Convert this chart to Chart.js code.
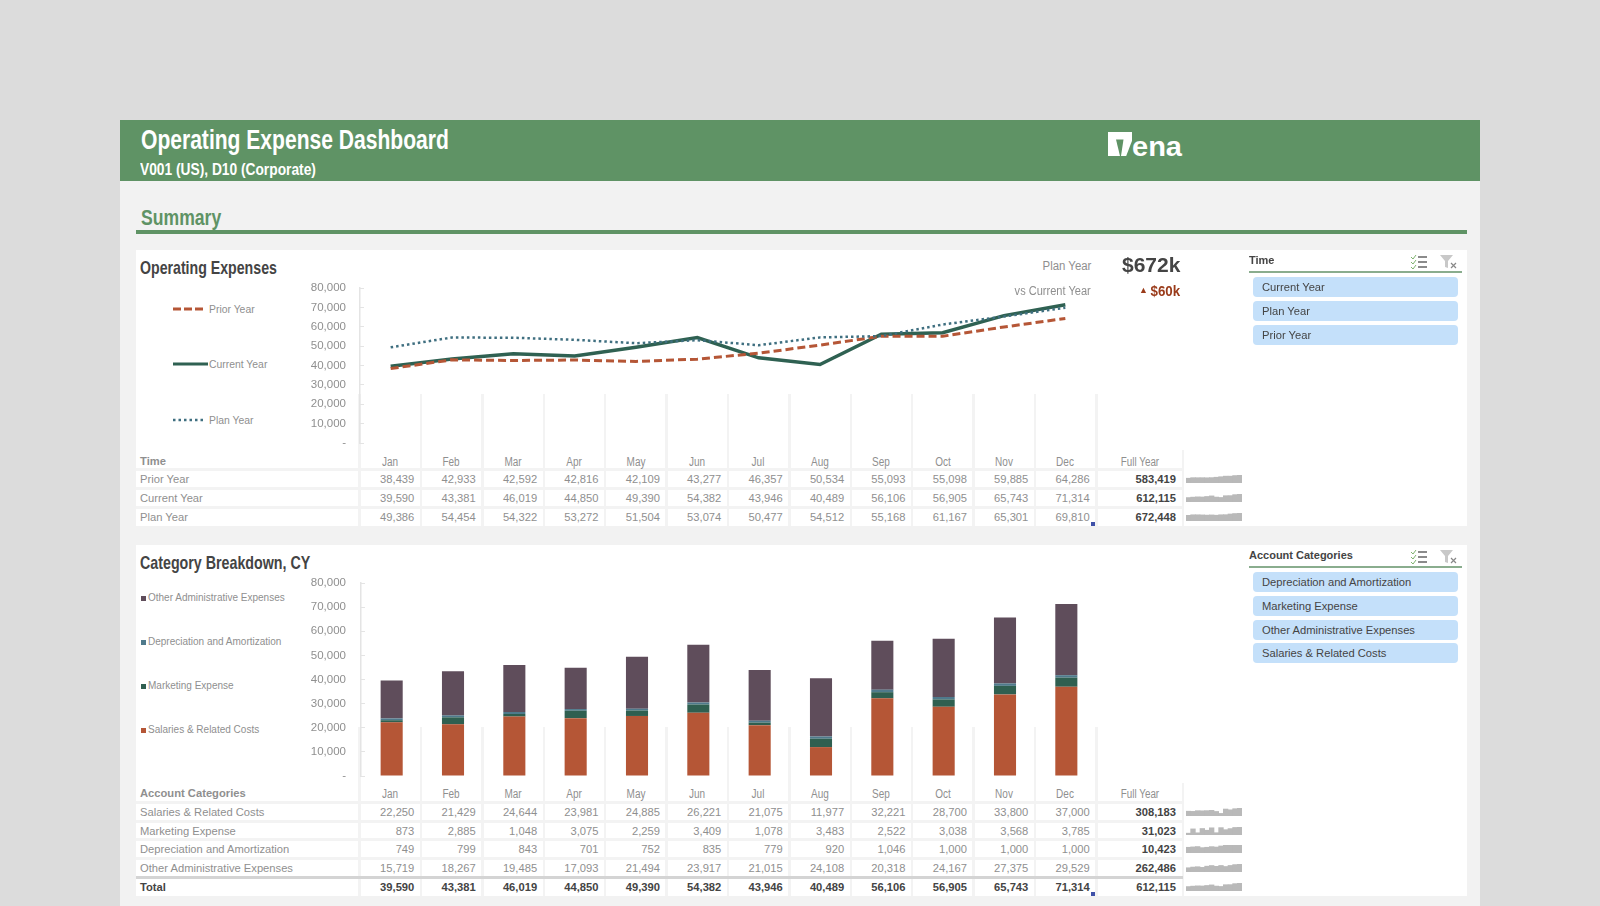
<!DOCTYPE html>
<html>
<head>
<meta charset="utf-8">
<title>Operating Expense Dashboard</title>
<script src="https://cdn.jsdelivr.net/npm/chart.js@4/dist/chart.umd.min.js"></script>
<style>
  html, body { margin: 0; padding: 0; }
  body { width: 1600px; height: 906px; background: #dcdcdc; position: relative; overflow: hidden; font-family: "Liberation Sans", sans-serif; }
  .box, .txt, canvas, svg { position: absolute; }
  .txt { white-space: nowrap; line-height: 16px; height: 16px; }
  .slicer { background: #c4e0fa; border-radius: 4px; left: 1253px; width: 205px; height: 20px; }
</style>
</head>
<body>
<div class="box" style="left:120px;top:120px;width:1360px;height:786px;background:#f2f2f2"></div>
<div class="box" style="left:120px;top:120px;width:1360px;height:61px;background:#5f9365"></div>
<div class="box" style="left:136px;top:230px;width:1331px;height:4px;background:#5f9365"></div>
<div class="box" style="left:136px;top:250px;width:1331px;height:276px;background:#fff"></div>
<div class="box" style="left:136px;top:545px;width:1331px;height:351px;background:#fff"></div>
<div id="grid"></div>
<canvas id="linesChart" width="797" height="170" style="left:300px;top:280px"></canvas>
<canvas id="barsChart" width="798" height="210" style="left:300px;top:575px"></canvas>
<div id="overlay"></div>

<script>
const months = ['Jan', 'Feb', 'Mar', 'Apr', 'May', 'Jun', 'Jul', 'Aug', 'Sep', 'Oct', 'Nov', 'Dec'];

const priorYear = [38439, 42933, 42592, 42816, 42109, 43277, 46357, 50534, 55093, 55098, 59885, 64286];
const currentYear = [39590, 43381, 46019, 44850, 49390, 54382, 43946, 40489, 56106, 56905, 65743, 71314];
const planYear = [49386, 54454, 54322, 53272, 51504, 53074, 50477, 54512, 55168, 61167, 65301, 69810];
const timeFullYear = [583419, 612115, 672448];

const salaries = [22250, 21429, 24644, 23981, 24885, 26221, 21075, 11977, 32221, 28700, 33800, 37000];
const marketing = [873, 2885, 1048, 3075, 2259, 3409, 1078, 3483, 2522, 3038, 3568, 3785];
const depreciation = [749, 799, 843, 701, 752, 835, 779, 920, 1046, 1000, 1000, 1000];
const otherAdmin = [15719, 18267, 19485, 17093, 21494, 23917, 21015, 24108, 20318, 24167, 27375, 29529];
const totals = [39590, 43381, 46019, 44850, 49390, 54382, 43946, 40489, 56106, 56905, 65743, 71314];
const categoryFullYear = [308183, 31023, 10423, 262486, 612115];

const timeSlicer = ['Current Year', 'Plan Year', 'Prior Year'];
const categorySlicer = ['Depreciation and Amortization', 'Marketing Expense', 'Other Administrative Expenses', 'Salaries & Related Costs'];

const GREY = '#8f8f8f', DARK = '#444444', RUST = '#b55636', PINE = '#2f6152', TEAL = '#3f6f80', PLUM = '#5f4d5b', LINE = '#f3f3f3';
const colX = i => 359.3 + 61.4 * i;
const fmt = v => v.toLocaleString('en-US');

const grid = document.getElementById('grid');
const overlay = document.getElementById('overlay');

function rect(x, y, w, h, color) {
  const d = document.createElement('div');
  d.className = 'box';
  d.style.cssText = `left:${x}px;top:${y}px;width:${w}px;height:${h}px;background:${color}`;
  grid.appendChild(d);
}

// text is placed by its vertical centre, align says which side x refers to.
// squeeze stands in for the condensed face of the source, no narrow font here
function text(str, x, cy, opts = {}) {
  const d = document.createElement('div');
  d.className = 'txt';
  d.textContent = str;
  const sq = opts.squeeze || 1;
  let pos = `left:${x}px;transform-origin:left center;transform:scaleX(${sq})`;
  if (opts.align === 'right') pos = `right:${1600 - x}px;transform-origin:right center;transform:scaleX(${sq})`;
  if (opts.align === 'center') pos = `left:${x}px;transform:translateX(-50%) scaleX(${sq})`;
  d.style.cssText = `${pos};top:${cy - 8}px;font-size:${opts.size || 11.2}px;color:${opts.color || GREY};font-weight:${opts.bold ? 'bold' : 'normal'}`;
  overlay.appendChild(d);
}

function sparkline(values, x, y) {
  const c = document.createElement('canvas');
  c.width = 56; c.height = 8;
  c.style.left = x + 'px'; c.style.top = y + 'px';
  overlay.appendChild(c);
  new Chart(c, {
    type: 'bar',
    data: { labels: months, datasets: [{ data: values, backgroundColor: '#b9b9b9', barPercentage: 1, categoryPercentage: 1 }] },
    options: {
      responsive: false, animation: false, events: [],
      plugins: { legend: { display: false }, tooltip: { enabled: false } },
      scales: { x: { display: false }, y: { display: false, min: 0, max: Math.max(...values) } },
    },
  });
}

// one block of table rows under a chart
function table(title, headY, rows, rowYs, sepTop, fullTop, bottom) {
  for (let i = 0; i <= 12; i++) rect(colX(i) - 1, sepTop, 2.5, bottom - sepTop, LINE);
  rect(1182, fullTop, 2, bottom - fullTop, LINE);
  text(title, 140, headY - 1, { bold: true });
  months.forEach((m, i) => text(m, colX(i) + 30.7, headY, { size: 12.5, squeeze: 0.8, align: 'center' }));
  text('Full Year', 1140, headY, { size: 12, squeeze: 0.82, align: 'center' });
  rows.forEach((r, k) => {
    const cy = rowYs[k];
    rect(136, cy - 11, 1047, 2.5, LINE);
    text(r.name, 140, cy, { bold: r.bold, color: r.bold ? DARK : GREY });
    r.values.forEach((v, i) => text(fmt(v), colX(i) + 55, cy, { align: 'right', bold: r.bold, color: r.bold ? DARK : GREY }));
    text(fmt(r.full), 1176, cy, { align: 'right', bold: true, color: DARK });
    sparkline(r.values, 1186, cy - 4);
  });
}

function legendLine(name, cy, color, w, dash, sampleW) {
  const ns = 'http://www.w3.org/2000/svg';
  const s = document.createElementNS(ns, 'svg');
  s.setAttribute('width', sampleW); s.setAttribute('height', 6);
  s.style.left = '173px'; s.style.top = (cy - 3) + 'px';
  const l = document.createElementNS(ns, 'line');
  l.setAttribute('x1', 0); l.setAttribute('x2', sampleW); l.setAttribute('y1', 3); l.setAttribute('y2', 3);
  l.setAttribute('stroke', color); l.setAttribute('stroke-width', w);
  if (dash) l.setAttribute('stroke-dasharray', dash);
  s.appendChild(l);
  overlay.appendChild(s);
  text(name, 209, cy + 0.5, { size: 10.4 });
}

function legendSquare(name, cy, color) {
  rect(141, cy - 2.5, 5, 5, color);
  text(name, 148, cy, { size: 10 });
}

function slicer(title, titleY, items, tops) {
  text(title, 1249, titleY, { bold: true, color: DARK, size: 11 });
  rect(1249, titleY + 11, 213, 2, '#8aad8e');
  items.forEach((name, i) => {
    const d = document.createElement('div');
    d.className = 'box slicer';
    d.style.top = tops[i] + 'px';
    overlay.appendChild(d);
    text(name, 1262, tops[i] + 10, { color: DARK, size: 11.2 });
  });
  const s = document.createElementNS('http://www.w3.org/2000/svg', 'svg');
  s.setAttribute('width', 50); s.setAttribute('height', 16);
  s.style.left = '1410px'; s.style.top = (titleY - 6) + 'px';
  s.innerHTML = '<path d="M1 3l2 2 3-4M1 8l2 2 3-4M1 13l2 2 3-4" stroke="#7fb36f" fill="none"/>' +
    '<path d="M8 3h9M8 8h9M8 13h9" stroke="#666" stroke-width="1.3"/>' +
    '<path d="M30 1h13l-5 6v7l-3-1V7z" fill="#c8c8c8"/>' +
    '<path d="M41 9l5 5M46 9l-5 5" stroke="#888" stroke-width="1.2"/>';
  overlay.appendChild(s);
}

function axisY(width, tickPadding) {
  return {
    min: 0, max: 80000,
    // ticks.padding also pads the top and bottom of the scale, drop that
    afterFit: s => { s.width = width; s.paddingTop = 0; s.paddingBottom = 0; },
    border: { color: '#e4e4e4', width: 1.5 },
    grid: { drawOnChartArea: false, tickLength: -4, tickColor: '#e4e4e4' },
    ticks: {
      stepSize: 10000, padding: tickPadding, color: GREY,
      font: { family: '"Liberation Sans"', size: 11.5 },
      callback: v => (v === 0 ? '-' : fmt(v)),
    },
  };
}

const commonOptions = {
  responsive: false, animation: false, events: [],
  plugins: { legend: { display: false }, tooltip: { enabled: false } },
};

new Chart(document.getElementById('linesChart'), {
  type: 'line',
  data: {
    labels: months,
    datasets: [
      { label: 'Plan Year', data: planYear, borderColor: TEAL, borderWidth: 2.5, borderDash: [2.5, 3], pointRadius: 0, tension: 0 },
      { label: 'Prior Year', data: priorYear, borderColor: RUST, borderWidth: 3, borderDash: [8, 4], pointRadius: 0, tension: 0 },
      { label: 'Current Year', data: currentYear, borderColor: PINE, borderWidth: 3.5, pointRadius: 0, tension: 0 },
    ],
  },
  options: {
    ...commonOptions,
    layout: { padding: { top: 8, bottom: 7, right: 1 } },
    scales: { x: { display: false, offset: true }, y: axisY(60, 18) },
  },
});

new Chart(document.getElementById('barsChart'), {
  type: 'bar',
  data: {
    labels: months,
    datasets: [
      { label: 'Salaries & Related Costs', data: salaries, backgroundColor: RUST },
      { label: 'Marketing Expense', data: marketing, backgroundColor: '#2f5f50' },
      { label: 'Depreciation and Amortization', data: depreciation, backgroundColor: '#4f7a8c' },
      { label: 'Other Administrative Expenses', data: otherAdmin, backgroundColor: PLUM },
    ],
  },
  options: {
    ...commonOptions,
    layout: { padding: { top: 8, bottom: 9, right: 1 } },
    datasets: { bar: { barPercentage: 0.36, categoryPercentage: 1 } },
    scales: { x: { display: false, stacked: true }, y: { ...axisY(61, 19), stacked: true } },
  },
});

// header and section titles
text('Operating Expense Dashboard', 141, 140, { bold: true, size: 27, squeeze: 0.78, color: '#fff' });
text('V001 (US), D10 (Corporate)', 140, 170, { bold: true, size: 16, squeeze: 0.86, color: '#fff' });
text('Summary', 141, 218, { bold: true, size: 22, squeeze: 0.8, color: '#5f9365' });
text('Operating Expenses', 140, 268, { bold: true, size: 19, squeeze: 0.745, color: DARK });
text('Category Breakdown, CY', 140, 563, { bold: true, size: 19, squeeze: 0.75, color: DARK });

// logo
const logo = document.createElementNS('http://www.w3.org/2000/svg', 'svg');
logo.setAttribute('width', 80); logo.setAttribute('height', 30);
logo.style.left = '1108px'; logo.style.top = '132px';
logo.innerHTML = '<rect width="24" height="24" fill="#fff"/>' +
  '<path d="M8 7.5h7.5L13 24h-1z" fill="#5f9365"/><path d="M24.5 7.5V24.5H18z" fill="#5f9365"/>' +
  '<text x="24" y="23.5" fill="#fff" font-family="Liberation Sans" font-weight="bold" font-size="28" textLength="50" lengthAdjust="spacingAndGlyphs">ena</text>';
overlay.appendChild(logo);

// KPI block
text('Plan Year', 1091, 266, { align: 'right', size: 12, squeeze: 0.95 });
text('vs Current Year', 1091, 291, { align: 'right', size: 12, squeeze: 0.92 });
text('$672k', 1122, 265, { bold: true, size: 21, color: DARK });
text('▲', 1148, 290, { size: 9, color: '#9a3b1a', align: 'right' });
text('$60k', 1180, 291, { bold: true, size: 14, squeeze: 0.95, color: '#9a3b1a', align: 'right' });

// legends
legendLine('Prior Year', 309, RUST, 3, '8 3', 31);
legendLine('Current Year', 364, PINE, 3, null, 35);
legendLine('Plan Year', 420, TEAL, 2.5, '2.5 3', 33);
legendSquare('Other Administrative Expenses', 598, PLUM);
legendSquare('Depreciation and Amortization', 642, '#4f7a8c');
legendSquare('Marketing Expense', 686, '#2f5f50');
legendSquare('Salaries & Related Costs', 730, RUST);

// tables
table('Time', 462, [
  { name: 'Prior Year', values: priorYear, full: timeFullYear[0] },
  { name: 'Current Year', values: currentYear, full: timeFullYear[1] },
  { name: 'Plan Year', values: planYear, full: timeFullYear[2] },
], [479, 498, 517], 394, 450, 526);

table('Account Categories', 794, [
  { name: 'Salaries & Related Costs', values: salaries, full: categoryFullYear[0] },
  { name: 'Marketing Expense', values: marketing, full: categoryFullYear[1] },
  { name: 'Depreciation and Amortization', values: depreciation, full: categoryFullYear[2] },
  { name: 'Other Administrative Expenses', values: otherAdmin, full: categoryFullYear[3] },
  { name: 'Total', values: totals, full: categoryFullYear[4], bold: true },
], [812, 831, 849, 868, 887], 727, 783, 896);
rect(136, 876, 1047, 3, '#d4d4d4');

// little corner markers of the source sheet
rect(1091, 522, 4, 4, '#3f51a8');
rect(1091, 892, 4, 4, '#3f51a8');

// slicers
slicer('Time', 260, timeSlicer, [277, 301, 325]);
slicer('Account Categories', 555, categorySlicer, [572, 596, 620, 643]);
</script>
</body>
</html>
